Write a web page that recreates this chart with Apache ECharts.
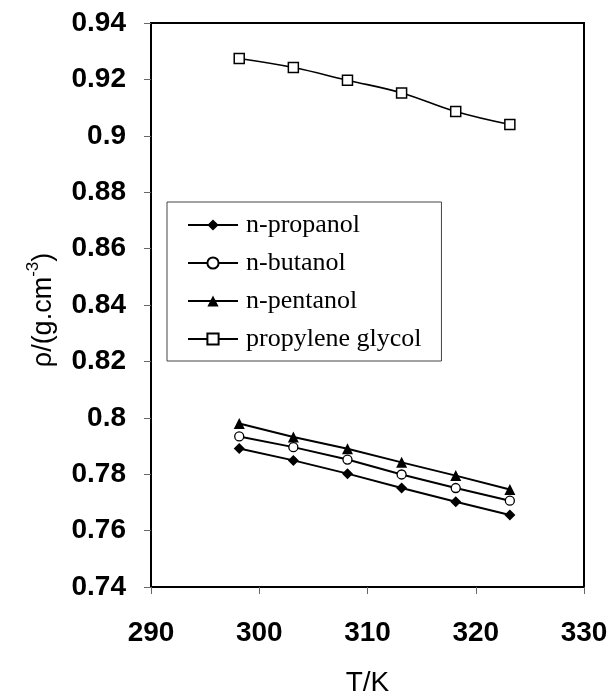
<!DOCTYPE html>
<html>
<head>
<meta charset="utf-8">
<script src="https://cdn.jsdelivr.net/npm/echarts@6/dist/echarts.min.js"></script>
<style>
html,body{margin:0;padding:0;background:#fff;}
#chart{width:616px;height:700px;}
</style>
</head>
<body>
<div id="chart"></div>
<script>
const temperatures = [298.15, 303.15, 308.15, 313.15, 318.15, 323.15];
const seriesNames = ['n-propanol', 'n-butanol', 'n-pentanol', 'propylene glycol'];
const nPropanol = [0.7891, 0.7849, 0.7802, 0.7751, 0.7702, 0.7655];
const nButanol = [0.7934, 0.7896, 0.7852, 0.7799, 0.7751, 0.7706];
const nPentanol = [0.7980, 0.7932, 0.7890, 0.7842, 0.7795, 0.7746];
const propyleneGlycol = [0.9274, 0.9242, 0.9197, 0.9152, 0.9086, 0.9040];
const xTicks = [290, 300, 310, 320, 330];
const yTicks = [0.74, 0.76, 0.78, 0.8, 0.82, 0.84, 0.86, 0.88, 0.9, 0.92, 0.94];

function pairs(ys) { return temperatures.map((t, i) => [t, ys[i]]); }

const chart = echarts.init(document.getElementById('chart'));
const sans = '"Liberation Sans", Arial, sans-serif';
const serif = '"Liberation Serif", "Times New Roman", serif';

chart.setOption({
  animation: false,
  backgroundColor: '#fff',
  grid: {
    left: 151, top: 23, right: 32, bottom: 113,
    outerBoundsMode: 'none',
    containLabel: false,
    show: true, borderColor: '#000', borderWidth: 2, backgroundColor: 'transparent'
  },
  legend: {
    orient: 'vertical',
    left: 167, top: 202,
    backgroundColor: '#fff',
    borderColor: '#444',
    borderWidth: 1,
    padding: [10, 20, 9, 20],
    itemWidth: 50,
    itemHeight: 14,
    itemGap: 12,
    data: seriesNames,
    textStyle: { fontFamily: serif, fontSize: 26, color: '#000', lineHeight: 25, padding: [0, 0, 0, 3] }
  },
  xAxis: {
    type: 'value',
    min: xTicks[0], max: xTicks[xTicks.length - 1], interval: 10,
    name: 'T/K',
    nameLocation: 'middle',
    nameGap: 82,
    nameTextStyle: { fontFamily: sans, fontSize: 28, color: '#000' },
    axisLine: { show: true, onZero: false, lineStyle: { color: '#000', width: 2 } },
    axisTick: { show: true, inside: false, length: 7, lineStyle: { color: '#666', width: 1 } },
    axisLabel: { margin: 32, fontFamily: sans, fontSize: 28, fontWeight: 'bold', color: '#000' },
    splitLine: { show: false }
  },
  yAxis: {
    type: 'value',
    min: yTicks[0], max: yTicks[yTicks.length - 1], interval: 0.02,
    name: '{m|ρ/(g.cm}{s|-3}{m|)}',
    nameLocation: 'middle',
    nameRotate: 90,
    nameGap: 94,
    nameTextStyle: {
      fontFamily: sans, fontSize: 27, color: '#000', padding: [0, 10, 0, 0],
      rich: {
        m: { fontFamily: sans, fontSize: 27, color: '#000', lineHeight: 32, verticalAlign: 'bottom' },
        s: { fontFamily: sans, fontSize: 17, color: '#000', lineHeight: 32, verticalAlign: 'top' }
      }
    },
    axisLine: { show: true, onZero: false, lineStyle: { color: '#000', width: 2 } },
    axisTick: { show: true, inside: false, length: 7, lineStyle: { color: '#666', width: 1 } },
    axisLabel: { margin: 25, fontFamily: sans, fontSize: 28, fontWeight: 'bold', color: '#000' },
    splitLine: { show: false }
  },
  series: [
    {
      name: seriesNames[0], type: 'line', data: pairs(nPropanol),
      symbol: 'diamond', symbolSize: 11,
      itemStyle: { color: '#000' },
      lineStyle: { color: '#000', width: 2 }
    },
    {
      name: seriesNames[1], type: 'line', data: pairs(nButanol),
      symbol: 'circle', symbolSize: 9,
      itemStyle: { color: '#fff', borderColor: '#000', borderWidth: 1.3 },
      lineStyle: { color: '#000', width: 2 }
    },
    {
      name: seriesNames[2], type: 'line', data: pairs(nPentanol),
      symbol: 'triangle', symbolSize: 11,
      itemStyle: { color: '#000' },
      lineStyle: { color: '#000', width: 2 }
    },
    {
      name: seriesNames[3], type: 'line', data: pairs(propyleneGlycol),
      symbol: 'rect', symbolSize: 10, smooth: 0.4,
      itemStyle: { color: '#fff', borderColor: '#000', borderWidth: 1.5 },
      lineStyle: { color: '#000', width: 1.6 }
    }
  ]
});
</script>
</body>
</html>
